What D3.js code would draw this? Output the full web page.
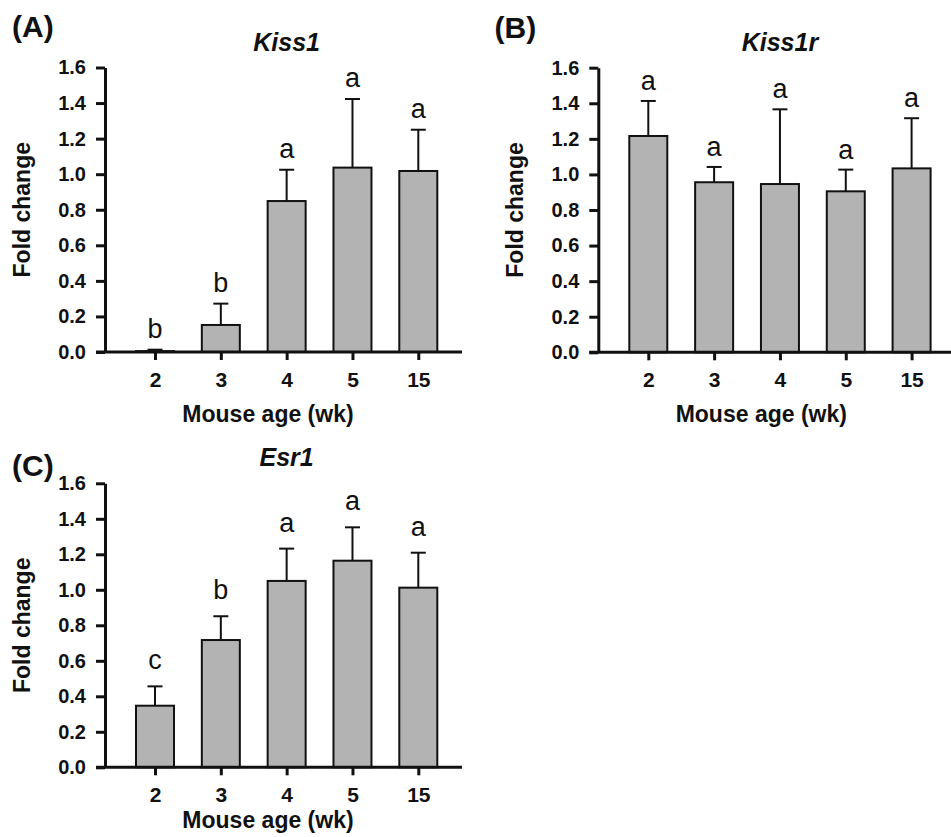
<!DOCTYPE html>
<html>
<head>
<meta charset="utf-8">
<script src="https://cdn.jsdelivr.net/npm/d3@7"></script>
<style>
  body { margin: 0; background: #fff; }
  text { font-family: "Liberation Sans", Arial, sans-serif; fill: #111; }
</style>
</head>
<body>
<div id="chart"></div>
<script>
// data
var ages = ["2", "3", "4", "5", "15"];
var yTicks = [0, 0.2, 0.4, 0.6, 0.8, 1.0, 1.2, 1.4, 1.6];

var kiss1Mean = [0.005, 0.152, 0.849, 1.037, 1.018];
var kiss1Err  = [0.008, 0.120, 0.176, 0.386, 0.232];
var kiss1Sig  = ["b", "b", "a", "a", "a"];

var kiss1rMean = [1.216, 0.956, 0.946, 0.905, 1.034];
var kiss1rErr  = [0.197, 0.086, 0.420, 0.122, 0.282];
var kiss1rSig  = ["a", "a", "a", "a", "a"];

var esr1Mean = [0.347, 0.717, 1.050, 1.164, 1.012];
var esr1Err  = [0.109, 0.134, 0.182, 0.188, 0.197];
var esr1Sig  = ["c", "b", "a", "a", "a"];

var width = 951, height = 837;

var svg = d3.select("#chart").append("svg")
    .attr("width", width)
    .attr("height", height);

// panel layout
var panels = [
  {tag: "(A)", title: "Kiss1", mean: kiss1Mean, err: kiss1Err, sig: kiss1Sig,
   ax: 105, y0: 352, y1: 67.5, tagX: 12, tagY: 37, titleY: 51, xTitleY: 422, gap: 12},
  {tag: "(B)", title: "Kiss1r", mean: kiss1rMean, err: kiss1rErr, sig: kiss1rSig,
   ax: 598.3, y0: 352.3, y1: 67.7, tagX: 494.5, tagY: 37.5, titleY: 51, xTitleY: 422, gap: 11},
  {tag: "(C)", title: "Esr1", mean: esr1Mean, err: esr1Err, sig: esr1Sig,
   ax: 105, y0: 767.3, y1: 483.3, tagX: 12, tagY: 476, titleY: 466, xTitleY: 828, gap: 17}
];

panels.forEach(function(p) {
  var g = svg.append("g");

  var x = d3.scalePoint().domain(ages).range([p.ax + 50, p.ax + 313.3]);
  var y = d3.scaleLinear().domain([0, 1.6]).range([p.y0, p.y1]);
  var barW = 38;

  // bars
  g.selectAll("rect")
    .data(p.mean)
    .enter().append("rect")
      .attr("x", function(d, i) { return x(ages[i]) - barW / 2; })
      .attr("y", function(d) { return y(d); })
      .attr("width", barW)
      .attr("height", function(d) { return y(0) - y(d); })
      .attr("fill", "#b3b3b3")
      .attr("stroke", "#111")
      .attr("stroke-width", 2);

  // error bars (upper only)
  var eb = g.selectAll(".err")
    .data(p.mean)
    .enter().append("g")
      .attr("class", "err");
  eb.append("line")
      .attr("x1", function(d, i) { return x(ages[i]); })
      .attr("x2", function(d, i) { return x(ages[i]); })
      .attr("y1", function(d) { return y(d); })
      .attr("y2", function(d, i) { return y(d + p.err[i]); })
      .attr("stroke", "#111")
      .attr("stroke-width", 2);
  eb.append("line")
      .attr("x1", function(d, i) { return x(ages[i]) - 7.5; })
      .attr("x2", function(d, i) { return x(ages[i]) + 7.5; })
      .attr("y1", function(d, i) { return y(d + p.err[i]); })
      .attr("y2", function(d, i) { return y(d + p.err[i]); })
      .attr("stroke", "#111")
      .attr("stroke-width", 2);

  // significance letters
  g.selectAll(".sig")
    .data(p.sig)
    .enter().append("text")
      .attr("class", "sig")
      .attr("x", function(d, i) { return x(ages[i]); })
      .attr("y", function(d, i) { return y(p.mean[i] + p.err[i]) - p.gap; })
      .attr("text-anchor", "middle")
      .attr("font-size", "27px")
      .text(function(d) { return d; });

  // y axis
  var yAxis = g.append("g")
      .attr("transform", "translate(" + p.ax + ",0)")
      .call(d3.axisLeft(y).tickValues(yTicks).tickFormat(d3.format(".1f"))
        .tickSize(9).tickSizeOuter(0).tickPadding(10));
  yAxis.selectAll("path, line").attr("stroke", "#111").attr("stroke-width", 3);
  yAxis.selectAll("text")
      .attr("font-size", "20px")
      .attr("font-weight", "bold")
      .attr("font-family", "Liberation Sans, Arial, sans-serif")
      .attr("fill", "#111");

  // x axis
  var xAxis = g.append("g")
      .attr("transform", "translate(0," + p.y0 + ")")
      .call(d3.axisBottom(x).tickSize(8).tickPadding(12));
  xAxis.select(".domain").remove();
  xAxis.selectAll("line").attr("stroke", "#111").attr("stroke-width", 3);
  xAxis.selectAll("text")
      .attr("font-size", "21px")
      .attr("font-weight", "bold")
      .attr("font-family", "Liberation Sans, Arial, sans-serif")
      .attr("fill", "#111");
  g.append("line")
      .attr("x1", p.ax - 9)
      .attr("x2", p.ax + 357)
      .attr("y1", p.y0)
      .attr("y2", p.y0)
      .attr("stroke", "#111")
      .attr("stroke-width", 3);

  // titles and labels
  g.append("text")
      .attr("x", p.tagX)
      .attr("y", p.tagY)
      .attr("font-size", "30px")
      .attr("font-weight", "bold")
      .text(p.tag);

  g.append("text")
      .attr("x", (x(ages[0]) + x(ages[4])) / 2)
      .attr("y", p.titleY)
      .attr("text-anchor", "middle")
      .attr("font-size", "25px")
      .attr("font-weight", "bold")
      .attr("font-style", "italic")
      .text(p.title);

  g.append("text")
      .attr("x", p.ax + 163)
      .attr("y", p.xTitleY)
      .attr("text-anchor", "middle")
      .attr("font-size", "23px")
      .attr("font-weight", "bold")
      .text("Mouse age (wk)");

  g.append("text")
      .attr("transform", "translate(" + (p.ax - 75) + "," + ((p.y0 + p.y1) / 2) + ") rotate(-90)")
      .attr("text-anchor", "middle")
      .attr("font-size", "23px")
      .attr("font-weight", "bold")
      .text("Fold change");
});
</script>
</body>
</html>
